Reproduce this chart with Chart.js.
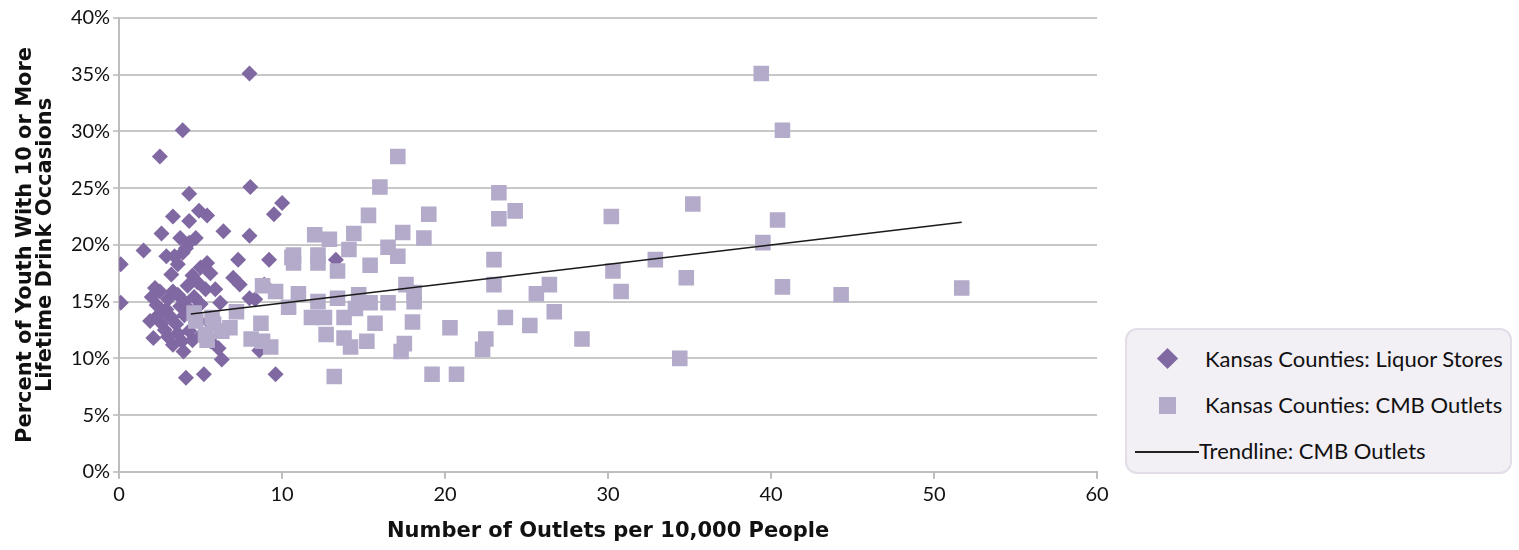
<!DOCTYPE html>
<html>
<head>
<meta charset="utf-8">
<script src="https://cdn.jsdelivr.net/npm/chart.js@4.4.1/dist/chart.umd.min.js"></script>
<style>
  body { margin: 0; background: #fff; font-family: Lato, "Open Sans", sans-serif; }
  #wrap { position: relative; width: 1519px; height: 550px; }
  #legend {
    position: absolute; left: 1125px; top: 328px; width: 383px; height: 142px;
    background: #f2eff5; border: 2px solid #e2dde8; border-radius: 12px;
    font-size: 22px; color: #111;
  }
  .item { position: absolute; left: 0; height: 24px; line-height: 24px; }
  .ico { position: absolute; }
  .txt { position: absolute; white-space: nowrap; }
</style>
</head>
<body>
<div id="wrap">
  <canvas id="chart" width="1519" height="550"></canvas>
  <div id="legend">
    <div class="item" style="top:17px">
      <div class="ico" style="left:33px;top:4px;width:15px;height:15px;background:#8069a2;transform:rotate(45deg)"></div>
      <div class="txt" style="left:78px">Kansas Counties: Liquor Stores</div>
    </div>
    <div class="item" style="top:63px">
      <div class="ico" style="left:32px;top:4px;width:17px;height:17px;background:#b4aac9"></div>
      <div class="txt" style="left:78px">Kansas Counties: CMB Outlets</div>
    </div>
    <div class="item" style="top:109px">
      <div class="ico" style="left:8px;top:12px;width:64px;height:1.5px;background:#222"></div>
      <div class="txt" style="left:72px">Trendline: CMB Outlets</div>
    </div>
  </div>
</div>
<script>
// Kansas counties: liquor stores per 10,000 people vs. % youth
var liquorX = [0.1, 0.1, 8.0, 3.9, 2.5, 4.3, 8.05, 10.0, 9.5, 3.3, 4.9, 5.4, 4.3, 2.6, 6.4, 8.0, 3.75, 4.7, 4.3, 1.5,
  2.9, 3.4, 3.9, 4.1, 5.4, 5.6, 7.3, 9.2, 13.3, 3.2, 7.0, 7.4, 2.5, 3.3, 4.2, 4.8, 5.3, 5.9, 6.2, 8.0,
  2.3, 2.9, 3.75, 1.9, 2.6, 3.5, 4.3, 2.1, 3.0, 3.85, 4.5, 3.95, 5.6, 6.1, 6.3, 4.1, 5.2, 9.6, 8.6, 8.35,
  8.9, 3.0, 3.6, 4.0, 4.6, 5.0, 2.4, 3.2, 4.0, 4.8, 2.8, 3.6, 5.0, 3.3, 4.4, 5.5, 2.2, 4.5, 3.6, 5.0, 2.0];
var liquorY = [18.3, 14.9, 35.1, 30.1, 27.8, 24.5, 25.1, 23.7, 22.7, 22.5, 23.0, 22.6, 22.1, 21.0, 21.2, 20.8, 20.6, 20.6, 20.2, 19.5,
  19.0, 19.0, 19.3, 19.7, 18.4, 17.5, 18.7, 18.7, 18.7, 17.4, 17.1, 16.5, 15.9, 15.9, 16.4, 16.7, 16.1, 16.1, 14.9, 15.3,
  14.7, 14.3, 14.6, 13.3, 13.1, 13.0, 12.4, 11.8, 11.9, 11.5, 11.6, 10.6, 11.5, 10.9, 9.9, 8.3, 8.6, 8.6, 10.7, 15.2,
  16.5, 15.2, 15.6, 15.0, 15.4, 14.8, 13.8, 13.6, 13.8, 13.4, 12.5, 12.2, 12.0, 11.2, 14.2, 13.2, 16.2, 17.3, 18.3, 18.0, 15.4];

// Kansas counties: CMB outlets per 10,000 people vs. % youth
var cmbX = [39.4, 40.7, 17.1, 16.0, 23.3, 24.3, 15.3, 19.0, 30.2, 35.2, 40.4, 23.3, 17.4, 14.4, 12.0, 12.9, 18.7, 39.5, 14.1, 10.7,
  12.2, 16.5, 17.1, 23.0, 32.9, 10.7, 15.4, 12.2, 13.4, 30.3, 34.8, 17.6, 23.0, 26.4, 40.7, 30.8, 8.8, 9.6, 11.0, 13.4,
  14.7, 18.1, 25.6, 44.3, 51.7, 18.1, 16.5, 12.2, 10.4, 14.5, 15.4, 26.7, 23.7, 25.2, 20.3, 18.0, 15.7, 11.8, 12.6, 13.8,
  8.7, 6.8, 4.6, 5.7, 7.2, 6.3, 5.3, 8.8, 8.1, 12.7, 13.8, 15.2, 14.2, 22.5, 22.3, 28.4, 17.3, 17.5, 9.3, 34.4,
  13.2, 19.2, 20.7, 4.7, 5.8, 5.4, 10.6];
var cmbY = [35.1, 30.1, 27.8, 25.1, 24.6, 23.0, 22.6, 22.7, 22.5, 23.6, 22.2, 22.3, 21.1, 21.0, 20.9, 20.5, 20.6, 20.2, 19.6, 19.1,
  19.1, 19.8, 19.0, 18.7, 18.7, 18.4, 18.2, 18.4, 17.7, 17.7, 17.1, 16.5, 16.5, 16.5, 16.3, 15.9, 16.4, 15.9, 15.7, 15.3,
  15.6, 15.8, 15.7, 15.6, 16.2, 15.0, 14.9, 15.0, 14.5, 14.4, 14.9, 14.1, 13.6, 12.9, 12.7, 13.2, 13.1, 13.6, 13.6, 13.6,
  13.1, 12.7, 14.0, 13.6, 14.1, 12.4, 12.1, 11.5, 11.7, 12.1, 11.8, 11.5, 11.0, 11.7, 10.8, 11.7, 10.6, 11.3, 11.0, 10.0,
  8.4, 8.6, 8.6, 13.3, 13.0, 11.6, 18.9];

// linear trendline for CMB outlets (end points)
var trendX = [4.4, 51.7];
var trendY = [13.9, 22.0];

var xTicks = [0, 10, 20, 30, 40, 50, 60];
var yTicks = [0, 5, 10, 15, 20, 25, 30, 35, 40];

function pts(xs, ys) {
  var out = [];
  for (var i = 0; i < xs.length; i++) out.push({x: xs[i], y: ys[i]});
  return out;
}

var font = "Lato, 'Open Sans', sans-serif";
var boldFont = "'DejaVu Sans', 'Open Sans', sans-serif";
var ctx = document.getElementById('chart').getContext('2d');
var chart = new Chart(ctx, {
  type: 'scatter',
  data: {
    datasets: [{
      label: 'Trendline: CMB Outlets',
      data: pts(trendX, trendY),
      showLine: true,
      borderColor: '#1a1a1a',
      borderWidth: 1.5,
      pointRadius: 0,
      order: 0
    }, {
      label: 'Kansas Counties: CMB Outlets',
      data: pts(cmbX, cmbY),
      pointStyle: 'rect',
      pointRadius: 11,
      backgroundColor: '#b4aac9',
      borderWidth: 0,
      order: 1
    }, {
      label: 'Kansas Counties: Liquor Stores',
      data: pts(liquorX, liquorY),
      pointStyle: 'rectRot',
      pointRadius: 8,
      backgroundColor: '#8069a2',
      borderWidth: 0,
      order: 2
    }]
  },
  options: {
    responsive: false,
    animation: false,
    layout: { padding: { top: 18, left: 16, right: 422, bottom: 6 } },
    plugins: { legend: { display: false }, tooltip: { enabled: false } },
    scales: {
      x: {
        type: 'linear', min: 0, max: 60,
        afterBuildTicks: function(s) { s.ticks = xTicks.map(function(v){ return {value: v}; }); },
        grid: { drawOnChartArea: false, drawTicks: true, tickLength: 7, color: '#bdbdbd', lineWidth: 2 },
        border: { color: '#bdbdbd', width: 2 },
        ticks: { color: '#111', font: { family: font, size: 20 }, padding: 4 },
        title: { display: true, text: 'Number of Outlets per 10,000 People', color: '#111',
                 font: { family: boldFont, size: 21, weight: 'bold' }, padding: { top: 8, bottom: 0 } }
      },
      y: {
        type: 'linear', min: 0, max: 40,
        afterBuildTicks: function(s) { s.ticks = yTicks.map(function(v){ return {value: v}; }); },
        grid: { color: '#c8c8c8', lineWidth: 2, drawTicks: true, tickLength: 6 },
        border: { color: '#bdbdbd', width: 2 },
        ticks: { color: '#111', font: { family: font, size: 20 }, padding: 3,
                 callback: function(v) { return v + '%'; } },
        title: { display: true, text: ['Percent of Youth With 10 or More', 'Lifetime Drink Occasions'], color: '#111',
                 font: { family: boldFont, size: 21, weight: 'bold', lineHeight: 0.95 }, padding: { top: 0, bottom: 12 } }
      }
    }
  }
});
</script>
</body>
</html>
